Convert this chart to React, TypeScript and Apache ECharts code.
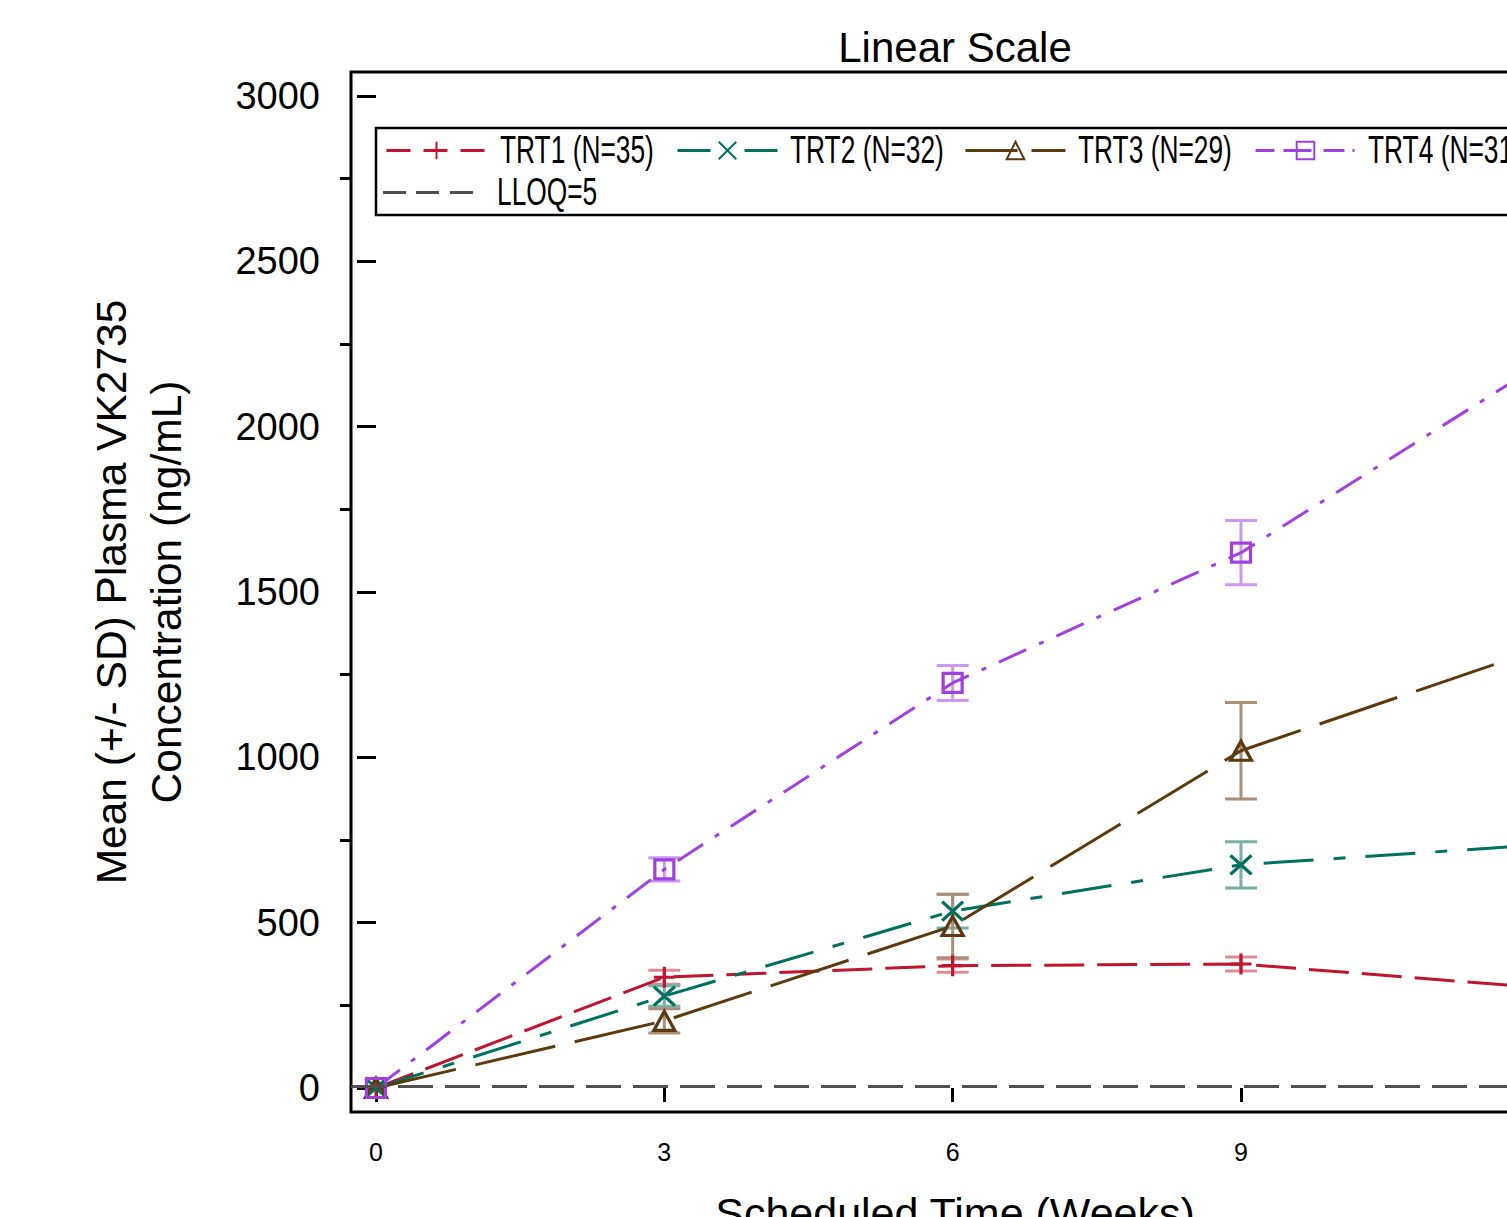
import { useEffect, useRef } from "react";
import * as echarts from "echarts";

// ---- data ----
const weeks = [0, 3, 6, 9, 12];
const trt1Mean = [0, 335, 370, 375, 306];
const trt1Sd = [0, 21, 20, 21, 25];
const trt2Mean = [0, 278, 535, 675, 733];
const trt2Sd = [0, 31, 51, 70, 80];
const trt3Mean = [0, 203, 490, 1020, 1317];
const trt3Sd = [0, 37, 96, 146, 170];
const trt4Mean = [0, 661, 1225, 1619, 2168];
const trt4Sd = [0, 35, 53, 97, 130];
const lloqValue = 5;

const groupNames = ["TRT1 (N=35)", "TRT2 (N=32)", "TRT3 (N=29)", "TRT4 (N=31)"];
const lloqName = "LLOQ=5";
const yTickValues = [0, 500, 1000, 1500, 2000, 2500, 3000];
const yMinorTickValues = [250, 750, 1250, 1750, 2250, 2750];
const xTickValues = [0, 3, 6, 9, 12];

const titleText = "Linear Scale";
const xName = "Scheduled Time (Weeks)";
const yName = "Mean (+/- SD) Plasma VK2735\nConcentration (ng/mL)";

// ---- styles / layout ----
const FONT = "'Liberation Sans', Arial, sans-serif";

const styles = [
  { color: "#C0152F", err: "#DD8C97", dash: [40, 13], legendDash: [24, 13], symbol: "path://M10,0 L10,20 M0,10 L20,10", size: 21 },
  { color: "#00705F", err: "#78AFA7", dash: [50, 20, 12, 20], legendDash: [33, 34], symbol: "path://M0,0 L20,18 M0,18 L20,0", size: [21, 19] },
  { color: "#5C3A0E", err: "#A89078", dash: [82, 20], legendDash: [52, 14, 35, 10], symbol: "path://M10,0 L20,18 L0,18 Z", size: [21, 19] },
  { color: "#A040E0", err: "#CC98F0", dash: [30, 14, 5, 14], legendDash: [19, 9, 28, 12, 21, 8, 2, 10], symbol: "path://M0,0 L18,0 L18,18 L0,18 Z", size: 19 },
];
const lloqStyle = { color: "#505050", dash: [35, 12] };

// legend layout: icon left, text left, row centre
const legendLayout = [
  { icon: 385, text: 500, row: 150, w: 100 },
  { icon: 676, text: 790, row: 150, w: 100 },
  { icon: 964, text: 1078, row: 150, w: 100 },
  { icon: 1254, text: 1368, row: 150, w: 100 },
  { icon: 383, text: 497, row: 192, w: 90 },
];

const means = [trt1Mean, trt2Mean, trt3Mean, trt4Mean];
const sds = [trt1Sd, trt2Sd, trt3Sd, trt4Sd];

function errorSeries(i: number) {
  const st = styles[i];
  const mean = means[i];
  const sd = sds[i];
  const data = weeks
    .map((w, k) => [w, mean[k] - sd[k], mean[k] + sd[k]])
    .filter((_, k) => sd[k] > 0);
  return {
    type: "custom",
    name: groupNames[i] + " SD",
    silent: true,
    z: 2,
    data,
    encode: { x: 0, y: [1, 2] },
    renderItem: (_params: any, api: any) => {
      const lo = api.coord([api.value(0), api.value(1)]);
      const hi = api.coord([api.value(0), api.value(2)]);
      const hw = 16;
      const style = { stroke: st.err, lineWidth: 3 };
      return {
        type: "group",
        children: [
          { type: "line", shape: { x1: lo[0], y1: lo[1], x2: hi[0], y2: hi[1] }, style },
          { type: "line", shape: { x1: lo[0] - hw, y1: lo[1], x2: lo[0] + hw, y2: lo[1] }, style },
          { type: "line", shape: { x1: hi[0] - hw, y1: hi[1], x2: hi[0] + hw, y2: hi[1] }, style },
        ],
      };
    },
  };
}

function lineSeries(i: number) {
  const st = styles[i];
  return {
    type: "line",
    name: groupNames[i],
    data: weeks.map((w, k) => [w, means[i][k]]),
    symbol: st.symbol,
    symbolSize: st.size,
    showAllSymbol: true,
    z: 3,
    lineStyle: { color: st.color, width: 3, type: st.dash },
    itemStyle: { color: "rgba(255,255,255,0)", borderColor: st.color, borderWidth: 3.2 },
    emphasis: { disabled: true },
  };
}

export default function App() {
  const ref = useRef<HTMLDivElement>(null);
  useEffect(() => {
    if (!ref.current) return;
    const chart = echarts.init(ref.current, undefined, { renderer: "svg" });

    const legendNames = [...groupNames, lloqName];
    const legends = legendNames.map((name, i) => {
      const lay = legendLayout[i];
      const isLloq = i === 4;
      return {
        data: isLloq
          ? [{ name, icon: "path://M0,0h23v3h-23zM33,0h23v3h-23zM67,0h23v3h-23z" }]
          : [{ name }],
        left: lay.icon,
        top: lay.row - 10.5,
        padding: 0,
        itemWidth: lay.w,
        itemHeight: 22,
        selectedMode: false,
        formatter: () => "",
        lineStyle: isLloq ? undefined : { type: styles[i].legendDash, width: 3 },
        textStyle: { fontSize: 1 },
        z: 20,
      };
    });

    const legendTexts = legendNames.map((name, i) => ({
      type: "text",
      x: legendLayout[i].text,
      y: legendLayout[i].row,
      scaleX: 0.675,
      z: 10,
      style: {
        text: name,
        fontSize: 39,
        fontFamily: FONT,
        fill: "#000",
        align: "left",
        verticalAlign: "middle",
      },
    }));

    const option: any = {
      animation: false,
      backgroundColor: "#fff",
      textStyle: { fontFamily: FONT },
      graphic: [
        {
          type: "text",
          x: 955,
          y: 47,
          style: {
            text: titleText,
            fontSize: 42,
            fontFamily: FONT,
            fill: "#000",
            align: "center",
            verticalAlign: "middle",
          },
        },
        {
          type: "rect",
          x: 376,
          y: 128,
          z: 5,
          shape: { width: 1160, height: 87 },
          style: { fill: "#fff", stroke: "#000", lineWidth: 2.5 },
        },
        ...legendTexts,
      ],
      grid: {
        left: 351,
        top: 72,
        width: 1208,
        height: 1040,
        show: true,
        borderColor: "#000",
        borderWidth: 3,
        containLabel: false,
        outerBoundsMode: "none",
      },
      legend: legends,
      xAxis: {
        type: "value",
        min: -0.26,
        max: 12.309,
        name: xName,
        nameLocation: "middle",
        nameGap: 79,
        nameTextStyle: { fontSize: 43, color: "#000", fontFamily: FONT },
        axisLine: { show: false },
        splitLine: { show: false },
        axisTick: { show: true, customValues: xTickValues, length: 14, lineStyle: { color: "#000", width: 3 } },
        axisLabel: { customValues: xTickValues, fontSize: 25, color: "#000", margin: 27, fontFamily: FONT },
      },
      yAxis: [
        {
          type: "value",
          min: -72.58,
          max: 3072.58,
          name: yName,
          nameLocation: "middle",
          nameGap: 157,
          nameTextStyle: { fontSize: 42.5, lineHeight: 55, color: "#000", fontFamily: FONT, align: "center" },
          axisLine: { show: false },
          splitLine: { show: false },
          axisTick: { show: true, customValues: yTickValues, length: 19, lineStyle: { color: "#000", width: 3 } },
          axisLabel: {
            customValues: yTickValues,
            fontSize: 38,
            color: "#000",
            margin: 31,
            fontFamily: FONT,
            formatter: (v: number) => String(v),
          },
        },
        {
          type: "value",
          min: -72.58,
          max: 3072.58,
          position: "left",
          axisLine: { show: false },
          splitLine: { show: false },
          axisTick: { show: true, customValues: yMinorTickValues, length: 11, lineStyle: { color: "#000", width: 3 } },
          axisLabel: { show: false },
        },
      ],
      series: [
        {
          type: "line",
          name: lloqName,
          data: [],
          z: 1,
          lineStyle: { color: lloqStyle.color, width: 3, type: lloqStyle.dash },
          itemStyle: { color: lloqStyle.color },
          markLine: {
            silent: true,
            symbol: "none",
            label: { show: false },
            lineStyle: { color: lloqStyle.color, width: 3, type: lloqStyle.dash },
            data: [{ yAxis: lloqValue }],
          },
        },
        ...[0, 1, 2, 3].map(errorSeries),
        ...[0, 1, 2, 3].map(lineSeries),
      ],
    };
    chart.setOption(option);
    return () => chart.dispose();
  }, []);

  return (
    <div
      style={{
        position: "fixed",
        left: 0,
        top: 0,
        width: 1507,
        height: 1217,
        overflow: "hidden",
        background: "#fff",
      }}
    >
      <div ref={ref} style={{ width: 1640, height: 1300 }} />
    </div>
  );
}
